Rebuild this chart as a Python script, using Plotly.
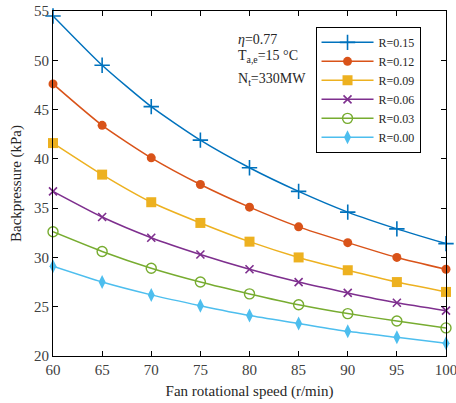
import plotly.graph_objects as go

speed = [60, 65, 70, 75, 80, 85, 90, 95, 100]
r015 = [54.5, 49.5, 45.3, 41.9, 39.1, 36.7, 34.6, 32.9, 31.4]
r012 = [47.6, 43.4, 40.1, 37.4, 35.1, 33.1, 31.5, 30.0, 28.8]
r009 = [41.6, 38.4, 35.6, 33.5, 31.6, 30.0, 28.7, 27.5, 26.5]
r006 = [36.7, 34.1, 32.0, 30.3, 28.8, 27.5, 26.4, 25.4, 24.6]
r003 = [32.6, 30.6, 28.9, 27.5, 26.3, 25.2, 24.3, 23.55, 22.85]
r000 = [29.1, 27.5, 26.2, 25.1, 24.1, 23.3, 22.5, 21.9, 21.3]
names = ["R=0.15", "R=0.12", "R=0.09", "R=0.06", "R=0.03", "R=0.00"]
xticks = [60, 65, 70, 75, 80, 85, 90, 95, 100]
yticks = [20, 25, 30, 35, 40, 45, 50, 55]

series = [r015, r012, r009, r006, r003, r000]
colors = ["#0072BD", "#D95319", "#EDB120", "#7E2F8E", "#77AC30", "#4DBEEE"]
markers = [
    dict(symbol="cross-thin", size=11, line=dict(width=1.6, color=colors[0])),
    dict(symbol="circle", size=9, line=dict(width=0)),
    dict(symbol="square", size=10, line=dict(width=0)),
    dict(symbol="x-thin", size=8, line=dict(width=1.6, color=colors[3])),
    dict(symbol="circle-open", size=10, line=dict(width=1.4, color=colors[4])),
    dict(symbol="diamond-tall", size=10, line=dict(width=0)),
]

font = "Liberation Serif, Times New Roman, serif"
fig = go.Figure()
for ys, nm, c, m in zip(series, names, colors, markers):
    fig.add_trace(go.Scatter(
        x=speed, y=ys, name=nm, mode="lines+markers", cliponaxis=False,
        line=dict(color=c, width=1.5, shape="spline", smoothing=0.6),
        marker=dict(color=c, **m),
    ))

axis_common = dict(
    showline=True, linecolor="black", linewidth=1, mirror="ticks",
    ticks="inside", ticklen=5, tickcolor="black", showgrid=False, zeroline=False,
    automargin=False, ticklabeloverflow="allow",
    tickfont=dict(family=font, size=15, color="#404040"),
)
fig.update_xaxes(range=[60, 100], tickvals=xticks,
                 title=dict(text="Fan rotational speed (r/min)", font=dict(family=font, size=15, color="#262626"), standoff=8),
                 **axis_common)
fig.update_yaxes(range=[20, 55], tickvals=yticks,
                 title=dict(text="Backpressure (kPa)", font=dict(family=font, size=15, color="#262626"), standoff=8),
                 **axis_common)

ann = [("<i>η</i>=0.77", 39), ("T<sub>a,e</sub>=15 °C", 57), ("N<sub>t</sub>=330MW", 79)]
for txt, yp in ann:
    fig.add_annotation(x=(236 - 53) / 393, y=1 - (yp - 11) / 345, xref="paper", yref="paper",
                       text=txt, showarrow=False, xanchor="left", yanchor="middle",
                       font=dict(family=font, size=14, color="#262626"))

fig.update_layout(
    template="none",
    width=456, height=403,
    margin=dict(l=53, r=10, t=11, b=47),
    paper_bgcolor="white", plot_bgcolor="white",
    legend=dict(x=0.668, y=0.954, xanchor="left", yanchor="top",
                bordercolor="black", borderwidth=1, bgcolor="white",
                font=dict(family=font, size=12, color="#262626"),
                tracegroupgap=0, itemwidth=52),
    showlegend=True,
)
fig.write_html("out.html", config={"displayModeBar": False},
               post_script="document.body.style.margin='0';")
